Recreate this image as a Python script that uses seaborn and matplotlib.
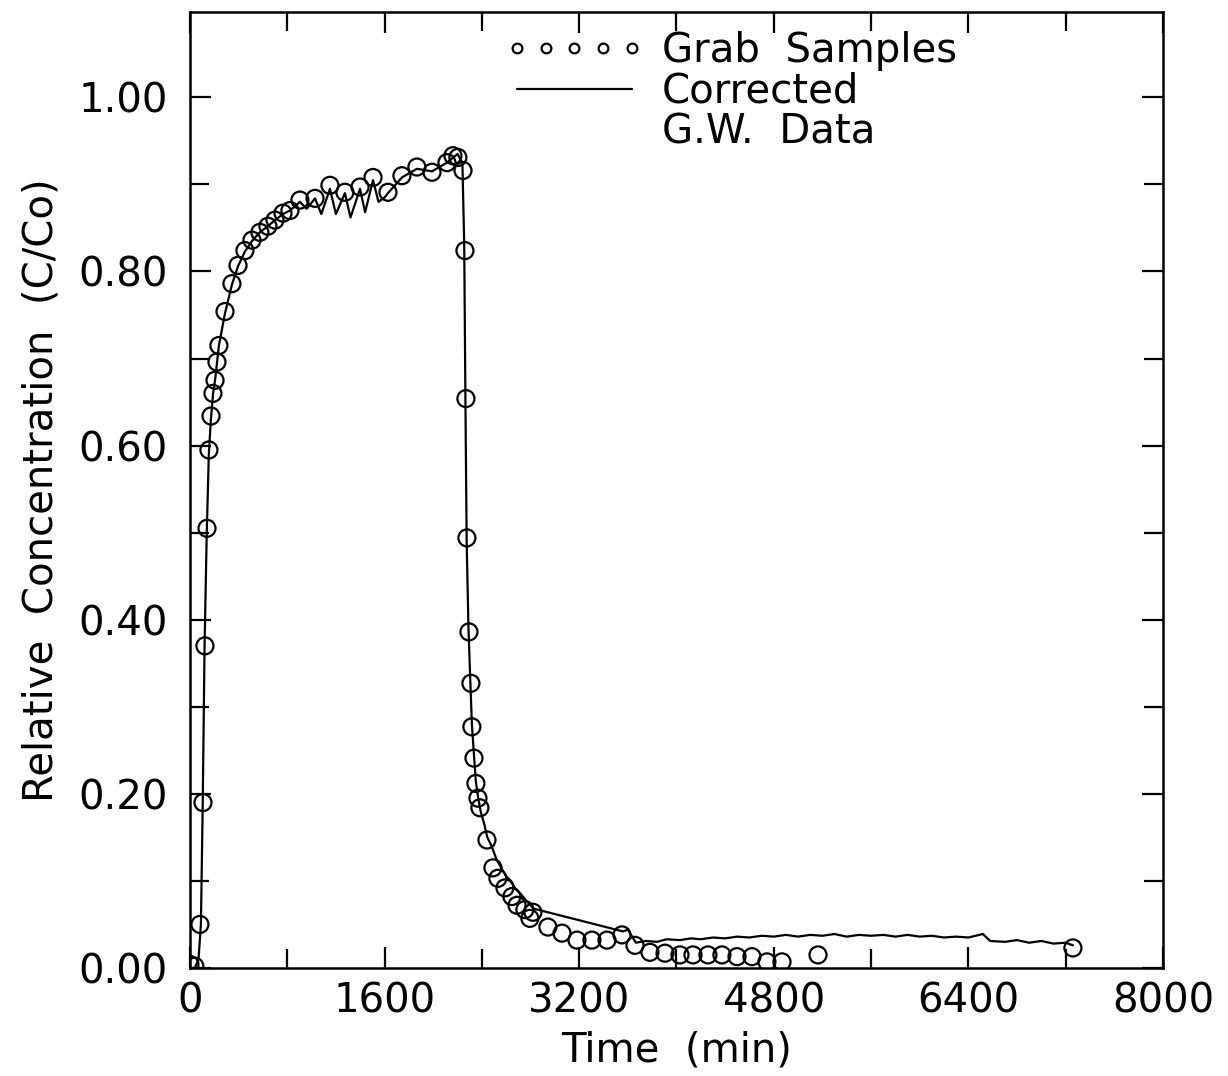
import numpy as np
import pandas as pd
import matplotlib
matplotlib.use("Agg")
import matplotlib.pyplot as plt
from matplotlib.lines import Line2D
from matplotlib.ticker import MultipleLocator, FixedLocator
import seaborn as sns

# Grab samples (circles)
grab_time = [0, 40, 82, 107, 123, 140, 156, 173, 189, 206, 222, 238, 288, 345, 395,
             452, 510, 575, 641, 699, 765, 822, 904, 1028, 1151, 1274, 1398, 1505,
             1628, 1743, 1866, 1990, 2113, 2162, 2203, 2245,
             2261, 2269, 2277, 2294, 2310, 2318, 2335, 2351, 2368, 2384,
             2442, 2491, 2532, 2590, 2647, 2689, 2754, 2795, 2820, 2943, 3059,
             3182, 3305, 3429, 3552, 3659, 3782, 3906, 4029, 4136, 4259, 4374,
             4498, 4621, 4744, 4868, 5164, 7260]
grab_conc = [0.004, 0.002, 0.050, 0.190, 0.370, 0.505, 0.595, 0.634, 0.660, 0.675,
             0.696, 0.715, 0.754, 0.786, 0.807, 0.824, 0.836, 0.845, 0.852, 0.859,
             0.867, 0.870, 0.882, 0.884, 0.899, 0.891, 0.897, 0.908, 0.891, 0.910,
             0.920, 0.914, 0.925, 0.933, 0.931, 0.916,
             0.824, 0.654, 0.494, 0.386, 0.327, 0.277, 0.241, 0.212, 0.195, 0.184,
             0.147, 0.115, 0.103, 0.092, 0.082, 0.072, 0.067, 0.057, 0.064, 0.047,
             0.040, 0.032, 0.032, 0.032, 0.038, 0.026, 0.018, 0.017, 0.015, 0.015,
             0.015, 0.015, 0.013, 0.013, 0.007, 0.007, 0.015, 0.023]

# Corrected G.W. data (line)
gw_time = [0, 40, 70, 90, 105, 120, 138, 155, 172, 190, 206, 222, 238, 288, 345,
           395, 452, 510, 575, 640, 700, 765, 822, 904, 960, 1028, 1080, 1151,
           1200, 1274, 1320, 1398, 1440, 1505, 1550, 1600, 1628, 1743, 1866, 1990,
           2113, 2200, 2240, 2255, 2265, 2275, 2290, 2305, 2318, 2335, 2350, 2370,
           2390, 2420, 2445, 2480, 2520, 2560, 2600, 2640, 2680, 2720, 2760, 2800,
           2830, 3560, 3600, 3667, 3750, 3840, 3920, 4029, 4120, 4200, 4300, 4400,
           4500, 4600, 4700, 4800, 4900, 5000, 5100, 5200, 5300, 5400, 5500, 5600,
           5700, 5800, 5900, 6000, 6100, 6200, 6300, 6400, 6520, 6580, 6700, 6800,
           6900, 7000, 7100, 7200, 7260]
gw_conc = [0.0, 0.0, 0.01, 0.05, 0.19, 0.37, 0.50, 0.59, 0.63, 0.66, 0.675, 0.695,
           0.715, 0.752, 0.785, 0.806, 0.823, 0.835, 0.845, 0.852, 0.859, 0.866,
           0.870, 0.880, 0.872, 0.884, 0.866, 0.895, 0.866, 0.890, 0.862, 0.895,
           0.868, 0.905, 0.880, 0.885, 0.890, 0.908, 0.918, 0.915, 0.925, 0.935,
           0.925, 0.83, 0.65, 0.49, 0.39, 0.33, 0.28, 0.245, 0.215, 0.195, 0.18,
           0.165, 0.15, 0.14, 0.125, 0.115, 0.105, 0.10, 0.09, 0.085, 0.078, 0.072,
           0.068, 0.042, 0.044, 0.029, 0.031, 0.030, 0.033, 0.032, 0.034, 0.033,
           0.035, 0.034, 0.036, 0.035, 0.037, 0.036, 0.038, 0.036, 0.038, 0.037,
           0.039, 0.036, 0.038, 0.037, 0.038, 0.036, 0.038, 0.036, 0.037, 0.035,
           0.036, 0.035, 0.039, 0.031, 0.030, 0.032, 0.029, 0.031, 0.028, 0.029,
           0.026]

x_ticks = [0, 1600, 3200, 4800, 6400, 8000]
y_ticks = [0.0, 0.2, 0.4, 0.6, 0.8, 1.0]

grab_df = pd.DataFrame({"t": grab_time, "c": grab_conc})
gw_df = pd.DataFrame({"t": gw_time, "c": gw_conc})

sns.set_style("ticks")
plt.rcParams['font.family'] = ['DejaVu Sans']
plt.rcParams['text.color'] = 'black'
plt.rcParams['axes.labelcolor'] = 'black'

FS = 29

fig = plt.figure(figsize=(12.28, 10.76), dpi=100)
ax = fig.add_axes([0.1547, 0.1004, 0.7923, 0.8884])

sns.lineplot(data=gw_df, x="t", y="c", ax=ax, color="black", linewidth=1.6,
             sort=False, estimator=None)
sns.scatterplot(data=grab_df, x="t", y="c", ax=ax, marker="o", s=150,
                facecolor="none", edgecolor="black", linewidth=1.6, zorder=3)

ax.set_xlim(0, 8000)
ax.set_ylim(0, 1.098)
ax.xaxis.set_major_locator(FixedLocator(x_ticks))
ax.xaxis.set_minor_locator(MultipleLocator(800))
ax.yaxis.set_major_locator(FixedLocator(y_ticks))
ax.yaxis.set_minor_locator(MultipleLocator(0.1))
ax.set_xticklabels([str(v) for v in x_ticks])
ax.set_yticklabels([f"{v:.2f}" for v in y_ticks])
ax.tick_params(which="both", direction="in", top=True, right=True,
               width=1.6, labelsize=FS, colors="black")
ax.tick_params(which="major", length=15)
ax.tick_params(axis="y", which="major", pad=16)
ax.tick_params(axis="x", which="major", pad=10)
ax.tick_params(which="minor", length=14)
for sp in ax.spines.values():
    sp.set_linewidth(1.8)
    sp.set_color("black")

ax.set_xlabel("Time  (min)", fontsize=FS, labelpad=6)
ax.set_ylabel("Relative  Concentration  (C/Co)", fontsize=FS, labelpad=12)

handles = [
    Line2D([], [], linestyle="none", marker="o", markersize=7, markerfacecolor="none",
           markeredgecolor="black", markeredgewidth=1.6),
    Line2D([], [], color="black", linewidth=1.6),
    Line2D([], [], linestyle="none"),
]
ax.legend(handles, ["Grab  Samples", "Corrected", "G.W.  Data"],
          loc="upper left", bbox_to_anchor=(0.307, 0.997), frameon=False,
          fontsize=FS, numpoints=5, handlelength=3.45, handletextpad=0.45,
          labelspacing=0.02, borderaxespad=0)

fig.savefig("out.png", dpi=100, facecolor="white")
